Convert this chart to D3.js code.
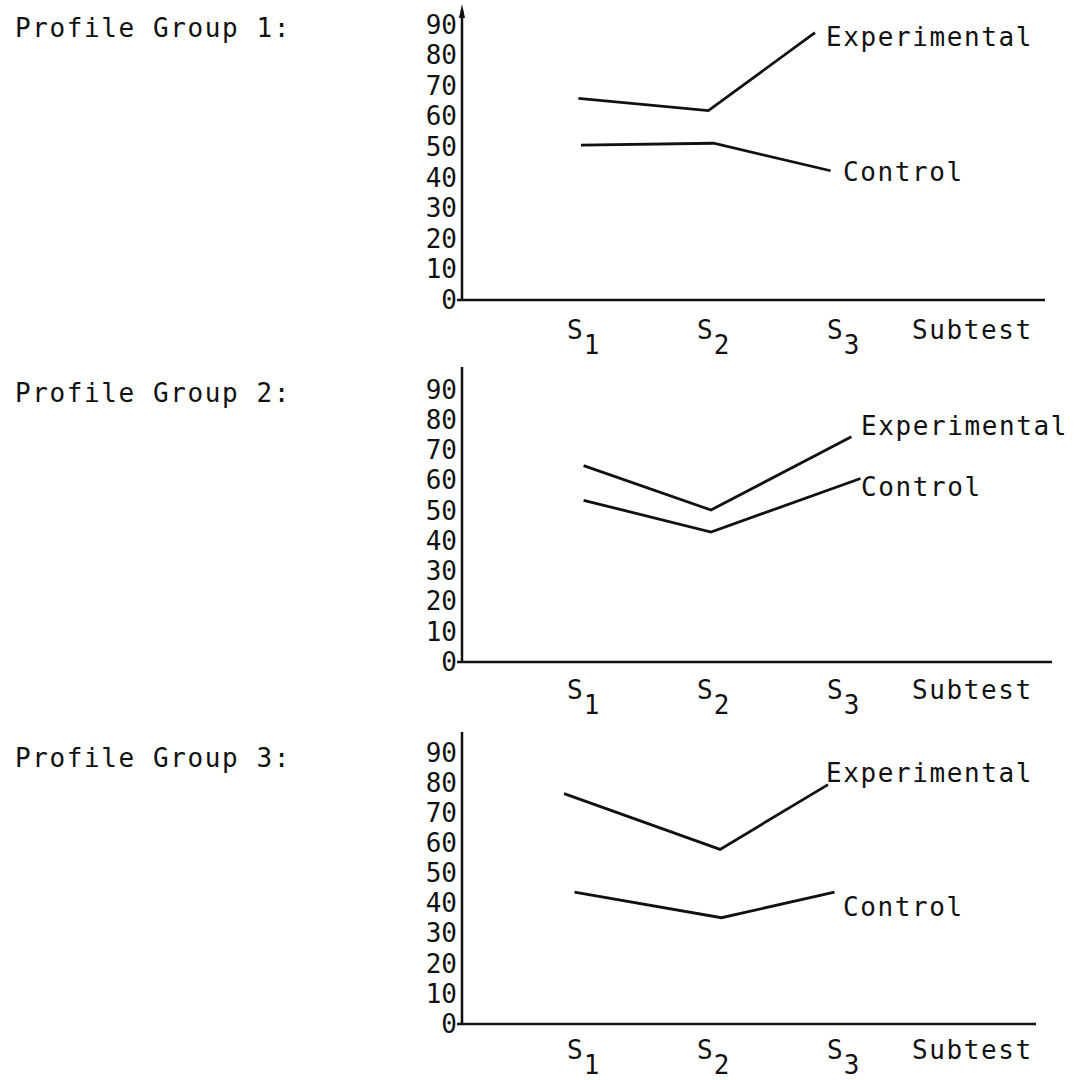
<!DOCTYPE html>
<html>
<head>
<meta charset="utf-8">
<script src="https://cdn.jsdelivr.net/npm/d3@7"></script>
<style>
  html, body { margin: 0; padding: 0; background: #fff; }
  svg { display: block; }
  .t { font-family: "DejaVu Sans Mono", monospace; fill: #111; }
</style>
</head>
<body>
<svg id="chart" width="1078" height="1080"></svg>
<script>
// ---- data ----
const groupTitles = ["Profile Group 1:", "Profile Group 2:", "Profile Group 3:"];
const subtests = ["1", "2", "3"];           // S subscripts
const seriesNames = ["Experimental", "Control"];
const xAxisLabel = "Subtest";
const yTickValues = [0, 10, 20, 30, 40, 50, 60, 70, 80, 90];
// values (per profile group: S1, S2, S3)
const experimentalValues = [[66, 62, 87.5], [65, 50.3, 74.5], [76.5, 58, 79.5]];
const controlValues      = [[50.7, 51.3, 42.3], [53.5, 43, 60.7], [43.8, 35.3, 43.8]];
// horizontal position of each plotted point in subtest units (1 = S1 ... 3 = S3)
const experimentalPos = [[0.98, 1.98, 2.8], [1.02, 2.0, 3.08], [0.87, 2.07, 2.9]];
const controlPos      = [[1.0, 2.02, 2.92], [1.02, 2.0, 3.15], [0.95, 2.08, 2.95]];

// ---- layout ----
const layout = [
  { top: 10,  base: 300,  y90: 25,  right: 1045, titleY: 28,  sY: 330,  exp: [826, 37],  ctl: [843, 172], arrow: true },
  { top: 367, base: 662,  y90: 390, right: 1052, titleY: 393, sY: 690,  exp: [861, 426], ctl: [861, 487], arrow: false },
  { top: 732, base: 1024, y90: 753, right: 1036, titleY: 758, sY: 1050, exp: [826, 773], ctl: [843, 907], arrow: false }
];
const axisX = 462;
const FS = 26;

const svg = d3.select("#chart");
const x = d3.scaleLinear().domain([1, 3]).range([581, 841]);

layout.forEach((L, gi) => {
  const g = svg.append("g");
  const y = d3.scaleLinear().domain([0, 90]).range([L.base, L.y90]);

  // title
  g.append("text").attr("class", "t")
    .attr("x", 15).attr("y", L.titleY).attr("dy", "0.36em")
    .attr("font-size", FS).attr("letter-spacing", 1.6)
    .text(groupTitles[gi]);

  // y tick labels via d3 axis
  const ax = g.append("g").attr("transform", `translate(${axisX - 5},0)`)
    .call(d3.axisLeft(y).tickValues(yTickValues).tickSize(0).tickPadding(0).tickFormat(d3.format("d")));
  ax.select(".domain").remove();
  ax.selectAll("text")
    .attr("font-family", "'DejaVu Sans Mono', monospace")
    .attr("font-size", FS).attr("fill", "#111");

  // axes lines
  g.append("line").attr("x1", axisX).attr("x2", axisX).attr("y1", L.top).attr("y2", L.base)
    .attr("stroke", "#111").attr("stroke-width", 2.5);
  g.append("line").attr("x1", axisX - 5).attr("x2", L.right).attr("y1", L.base).attr("y2", L.base)
    .attr("stroke", "#111").attr("stroke-width", 2.5);
  if (L.arrow) {
    g.append("path").attr("d", `M${axisX - 3},${L.top + 8} L${axisX},${L.top - 6} L${axisX + 3},${L.top + 8} Z`)
      .attr("fill", "#111");
  }

  // S labels
  subtests.forEach((s, i) => {
    const t = g.append("text").attr("class", "t")
      .attr("x", x(i + 1) - 14).attr("y", L.sY).attr("dy", "0.36em")
      .attr("font-size", FS);
    t.append("tspan").text("S");
    t.append("tspan").attr("dx", 1).attr("dy", 15).text(s);
  });
  g.append("text").attr("class", "t")
    .attr("x", 912).attr("y", L.sY).attr("dy", "0.36em")
    .attr("font-size", FS).attr("letter-spacing", 1.6)
    .text(xAxisLabel);

  // lines
  const line = d3.line().x(d => x(d[0])).y(d => y(d[1]));
  const expPts = experimentalPos[gi].map((p, i) => [p, experimentalValues[gi][i]]);
  const ctlPts = controlPos[gi].map((p, i) => [p, controlValues[gi][i]]);
  [expPts, ctlPts].forEach(pts => {
    g.append("path").attr("d", line(pts))
      .attr("fill", "none").attr("stroke", "#111").attr("stroke-width", 2.8)
      .attr("stroke-linejoin", "miter");
  });

  // series labels
  g.append("text").attr("class", "t")
    .attr("x", L.exp[0]).attr("y", L.exp[1]).attr("dy", "0.36em")
    .attr("font-size", FS).attr("letter-spacing", 1.6)
    .text(seriesNames[0]);
  g.append("text").attr("class", "t")
    .attr("x", L.ctl[0]).attr("y", L.ctl[1]).attr("dy", "0.36em")
    .attr("font-size", FS).attr("letter-spacing", 1.6)
    .text(seriesNames[1]);
});
</script>
</body>
</html>
